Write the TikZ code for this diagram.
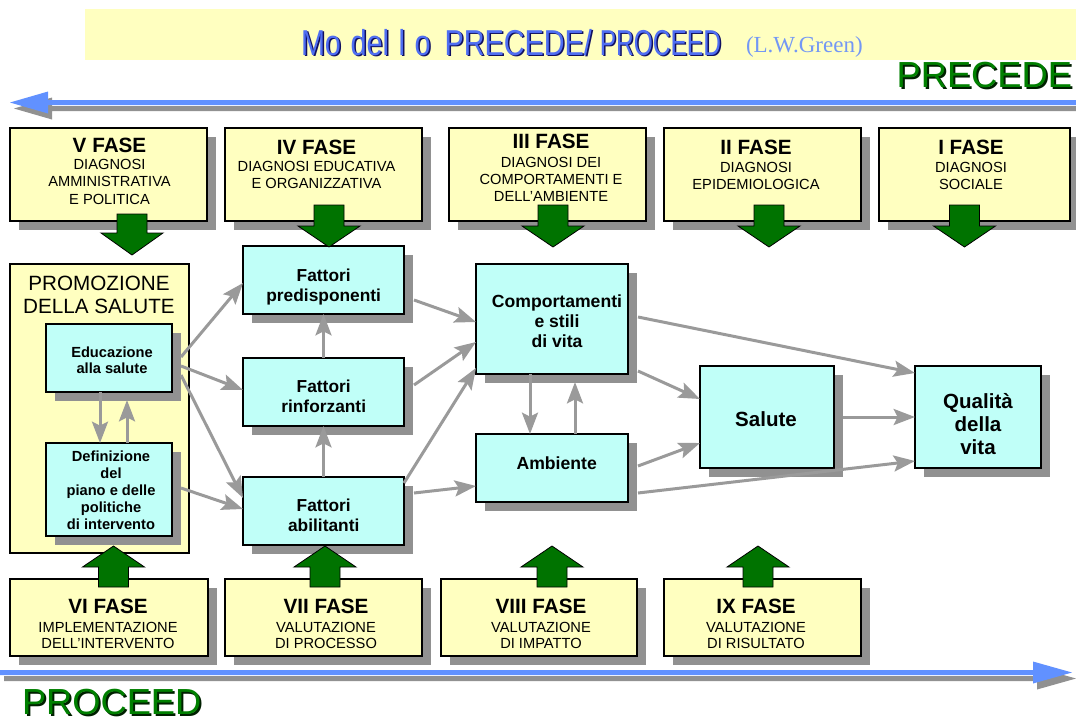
\documentclass[tikz,border=0pt]{standalone}
\usepackage{fontspec}
\setmainfont{Liberation Sans}
\newfontfamily\authorfont{Liberation Serif}
\usepackage{graphicx}
\usetikzlibrary{fit,shadows,arrows.meta,calc}

\definecolor{paleyellow}{HTML}{FFFFC0}
\definecolor{palecyan}{HTML}{C0FFF8}
\definecolor{shadowgray}{HTML}{919191}
\definecolor{linkgray}{HTML}{9A9A9A}
\definecolor{phasegreen}{HTML}{007300}
\definecolor{axisblue}{HTML}{6191FF}
\definecolor{titleblue}{HTML}{4F6EF2}
\definecolor{titleshade}{HTML}{101060}
\definecolor{authorblue}{HTML}{7397F5}
\definecolor{wordgreen}{HTML}{008000}
\definecolor{wordshade}{HTML}{002000}

% centred block of lines whose baseline is the first line
\newcommand\stack[1]{\begin{tabular}[t]{@{}c@{}}#1\end{tabular}}

% condensed heading text
\newcommand\headingtext{\scalebox{0.8}[1]{Mo\kern9pt del\kern9pt l\kern9pt o}\kern10.5pt\scalebox{0.8}[1]{PRECEDE/}\kern6pt\scalebox{0.68}[1]{PROCEED}}

% green block arrows: centre x, shaft end, head base, tip
\newcommand\downblock[4]{\filldraw[blockarrow] (#1-15,#2) -- (#1+15,#2) -- (#1+15,#3) -- (#1+31,#3) -- (#1,#4) -- (#1-31,#3) -- (#1-15,#3) -- cycle;}
\newcommand\upblock[4]{\filldraw[blockarrow] (#1-15,#2) -- (#1+15,#2) -- (#1+15,#3) -- (#1+31,#3) -- (#1,#4) -- (#1-31,#3) -- (#1-15,#3) -- cycle;}

\tikzset{
  boxbase/.style={draw=black, line width=0.9pt, inner sep=0pt, outer sep=0pt},
  boxshadow/.style={drop shadow={shadow xshift=6.75pt, shadow yshift=-6.75pt, fill=shadowgray, opacity=1}},
  phasebox/.style={boxbase, fill=paleyellow, boxshadow},
  factorbox/.style={boxbase, fill=palecyan, boxshadow},
  groupbox/.style={boxbase, fill=paleyellow},
  txt/.style={inner sep=0pt, outer sep=0pt, anchor=base},
  phasetitle/.style={txt, font=\fontsize{15.5}{18}\selectfont\bfseries},
  phasetext/.style={txt, font=\fontsize{11}{13.1}\selectfont},
  phasetextlow/.style={txt, font=\fontsize{11}{12.4}\selectfont},
  factortext/.style={txt, font=\fontsize{13}{14.9}\selectfont\bfseries},
  smalltext/.style={txt, font=\fontsize{11}{12.7}\selectfont\bfseries},
  midtext/.style={txt, font=\fontsize{13.2}{15}\selectfont\bfseries},
  bigtext/.style={txt, font=\fontsize{15.4}{17.5}\selectfont\bfseries},
  grouptext/.style={txt, font=\fontsize{15.5}{17.25}\selectfont},
  link/.style={draw=linkgray, line width=2.25pt, -{Stealth[length=16pt,width=12pt,inset=3pt]}},
  blockarrow/.style={fill=phasegreen, draw=black, line width=0.6pt, line join=miter},
}

\begin{document}
\begin{tikzpicture}[x=0.75pt,y=-0.75pt]
\useasboundingbox (0,0) rectangle (1076,719);

% ---- heading ----
\node[fill=paleyellow, inner sep=0pt, fit={(85,9) (1076,60)}] (band) {};
\node[txt, anchor=base west, text=titleshade, font=\fontsize{27}{27}\selectfont] (titleshadow) at (302.5,56.5) {\headingtext};
\node[txt, anchor=base west, text=titleblue, font=\fontsize{27}{27}\selectfont] (title) at (301,55) {\headingtext};
\node[txt, anchor=base west, text=authorblue, font=\authorfont\fontsize{17.25}{18}\selectfont] (author) at (746,52.5) {(L.W.Green)};

\node[txt, anchor=base east, text=wordshade, font=\fontsize{27.2}{28}\selectfont] (precedeshadow) at (1074,89) {PRECEDE};
\node[txt, anchor=base east, text=wordgreen, font=\fontsize{27.2}{28}\selectfont] (precede) at (1072,87) {PRECEDE};
\node[txt, anchor=base west, text=wordshade, font=\fontsize{27.2}{28}\selectfont] (proceedshadow) at (24,716.5) {PROCEED};
\node[txt, anchor=base west, text=wordgreen, font=\fontsize{27.2}{28}\selectfont] (proceed) at (22,714.5) {PROCEED};

% ---- time axes ----
\fill[shadowgray] (1080,106) -- (52,106) -- (52,97.5) -- (14,108.5) -- (52,119.5) -- (52,111) -- (1080,111) -- cycle;
\fill[axisblue] (1076,100) -- (48,100) -- (48,91.5) -- (10,102.5) -- (48,113.5) -- (48,105) -- (1076,105) -- cycle;
\fill[shadowgray] (4,676) -- (1037,676) -- (1037,667.5) -- (1076,678.5) -- (1037,689.5) -- (1037,681) -- (4,681) -- cycle;
\fill[axisblue] (0,670) -- (1033,670) -- (1033,661.5) -- (1072,672.5) -- (1033,683.5) -- (1033,675) -- (0,675) -- cycle;

% ---- PRECEDE phases ----
\node[phasebox, fit={(10,128) (207,221)}] (p5) {};
\node[phasebox, fit={(225,128) (422,221)}] (p4) {};
\node[phasebox, fit={(449,128) (646,221)}] (p3) {};
\node[phasebox, fit={(664,128) (861,221)}] (p2) {};
\node[phasebox, fit={(879,128) (1070,221)}] (p1) {};

\node[phasetitle] (t5) at (109.5,152) {V FASE};
\node[phasetext] (d5) at (109.5,169.5) {\stack{DIAGNOSI\\AMMINISTRATIVA\\E POLITICA}};
\node[phasetitle] (t4) at (316.5,154) {IV FASE};
\node[phasetext] (d4) at (316.5,171) {\stack{DIAGNOSI EDUCATIVA\\E ORGANIZZATIVA}};
\node[phasetitle] (t3) at (551,148.5) {III FASE};
\node[phasetext] (d3) at (551,167) {\stack{DIAGNOSI DEI\\COMPORTAMENTI E\\DELL’AMBIENTE}};
\node[phasetitle] (t2) at (756,154) {II FASE};
\node[phasetext] (d2) at (756,172) {\stack{DIAGNOSI\\EPIDEMIOLOGICA}};
\node[phasetitle] (t1) at (971,154) {I FASE};
\node[phasetext] (d1) at (971,172) {\stack{DIAGNOSI\\SOCIALE}};

% ---- PROCEED phases ----
\node[phasebox, fit={(10,579) (208,656)}] (p6) {};
\node[phasebox, fit={(225,579) (422,656)}] (p7) {};
\node[phasebox, fit={(441,579) (637,656)}] (p8) {};
\node[phasebox, fit={(664,579) (861,656)}] (p9) {};

\node[phasetitle] (t6) at (108,613) {VI FASE};
\node[phasetextlow] (d6) at (108,632) {\stack{IMPLEMENTAZIONE\\DELL’INTERVENTO}};
\node[phasetitle] (t7) at (326,613) {VII FASE};
\node[phasetextlow] (d7) at (326,632) {\stack{VALUTAZIONE\\DI PROCESSO}};
\node[phasetitle] (t8) at (541,613) {VIII FASE};
\node[phasetextlow] (d8) at (541,632) {\stack{VALUTAZIONE\\DI IMPATTO}};
\node[phasetitle] (t9) at (756,613) {IX FASE};
\node[phasetextlow] (d9) at (756,632) {\stack{VALUTAZIONE\\DI RISULTATO}};

% ---- health promotion group ----
\node[groupbox, fit={(10,264) (189,553)}] (prom) {};
\node[grouptext] (promtext) at (99,290) {\stack{PROMOZIONE\\DELLA SALUTE}};
\node[factorbox, fit={(46,324) (172,392)}] (edu) {};
\node[smalltext] (edutext) at (112,357) {\stack{Educazione\\alla salute}};
\node[factorbox, fit={(46,443) (172,536)}] (def) {};
\node[smalltext] (deftext) at (111,461.7) {\stack{Definizione\\del\\piano e delle\\politiche\\di intervento}};

% ---- factors ----
\node[factorbox, fit={(243,246) (404,314)}] (pre) {};
\node[factortext] (pretext) at (323.7,281.7) {\stack{Fattori\\predisponenti}};
\node[factorbox, fit={(243,358) (404,426)}] (rin) {};
\node[factortext] (rintext) at (323.7,392.7) {\stack{Fattori\\rinforzanti}};
\node[factorbox, fit={(243,477) (404,545)}] (abi) {};
\node[factortext] (abitext) at (323.7,511.7) {\stack{Fattori\\abilitanti}};

% ---- behaviour, environment, health, quality of life ----
\node[factorbox, fit={(476,264) (628,374)}] (com) {};
\node[midtext] (comtext) at (557,307.7) {\stack{Comportamenti\\e stili\\di vita}};
\node[factorbox, fit={(476,434) (628,502)}] (amb) {};
\node[midtext] (ambtext) at (556.7,469) {Ambiente};
\node[factorbox, fit={(700,366) (834,468)}] (sal) {};
\node[bigtext] (saltext) at (766,426) {Salute};
\node[factorbox, fit={(915,366) (1041,468)}] (qua) {};
\node[bigtext] (quatext) at (978,408.3) {\stack{Qualità\\della\\vita}};

% ---- connectors ----
\draw[link] ($(edu.north east)+(9,33)$) -- ($(pre.north west)+(0,37)$);
\draw[link] ($(edu.north east)+(9,42)$) -- ($(rin.north west)+(0,32)$);
\draw[link] ($(edu.north east)+(9,51)$) -- ($(abi.north west)+(0,21)$);
\draw[link] ($(def.north east)+(9,45)$) -- ($(abi.north west)+(0,32)$);
\draw[link] (rin.north) -- (pre.south);
\draw[link] (abi.north) -- (rin.south);
\draw[link] ($(edu.south west)+(54,0)$) -- ($(def.north west)+(54,0)$);
\draw[link] ($(def.north west)+(81,0)$) -- ($(edu.south west)+(81,8)$);
\draw[link] ($(pre.north east)+(10,54)$) -- ($(com.north west)+(0,58)$);
\draw[link] ($(rin.north east)+(10,27)$) -- ($(com.north west)+(0,78)$);
\draw[link] ($(abi.north east)+(0,6)$) -- ($(com.north west)+(0,104)$);
\draw[link] ($(abi.north east)+(10,16)$) -- ($(amb.north west)+(0,52)$);
\draw[link] ($(com.south west)+(54,0)$) -- ($(amb.north west)+(54,0)$);
\draw[link] ($(amb.north west)+(99,0)$) -- ($(com.south west)+(99,8)$);
\draw[link] ($(com.north east)+(10,53)$) -- ($(qua.north west)+(0,7)$);
\draw[link] ($(com.north east)+(10,107)$) -- ($(sal.north west)+(0,33)$);
\draw[link] ($(amb.north east)+(10,32)$) -- ($(sal.north west)+(0,77)$);
\draw[link] ($(amb.north east)+(10,59)$) -- ($(qua.north west)+(0,95)$);
\draw[link] ($(sal.north east)+(9,51)$) -- ($(qua.north west)+(0,51)$);

% ---- green phase arrows ----
\downblock{132}{214}{233}{255}
\downblock{329}{205}{226}{247}
\downblock{553}{205}{226}{247}
\downblock{769}{205}{226}{247}
\downblock{964.5}{205}{226}{247}
\upblock{113.5}{587}{567}{546}
\upblock{325}{587}{567}{546}
\upblock{552}{587}{567}{546}
\upblock{758}{587}{567}{546}
\end{tikzpicture}
\end{document}
